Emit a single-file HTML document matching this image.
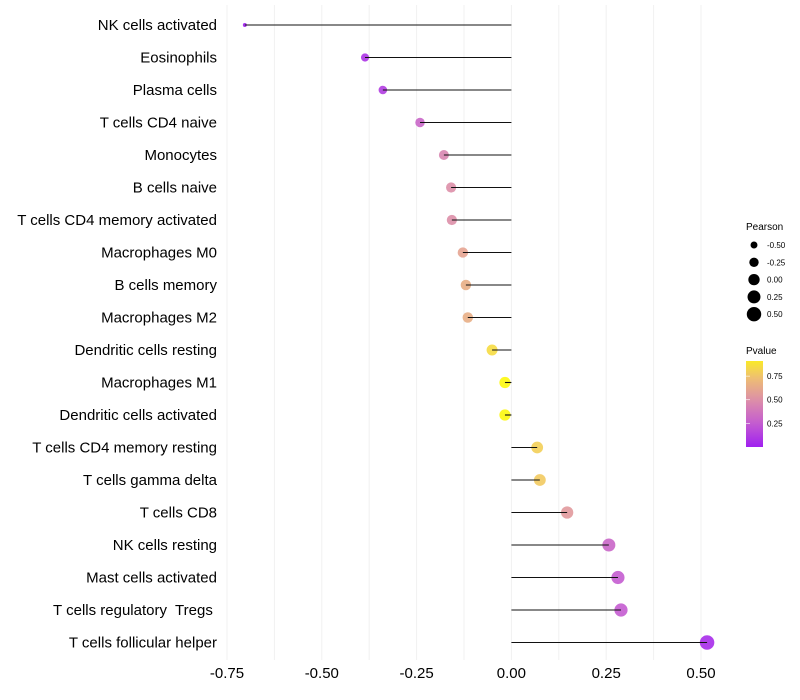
<!DOCTYPE html>
<html><head><meta charset="utf-8"><style>
body{margin:0;background:#fff}
svg{display:block;font-family:"Liberation Sans",sans-serif}
text{white-space:pre}
</style></head><body>
<svg id="chart" width="800" height="700">
<g id="grid"></g>
<g id="marks"></g>
<g id="ylabels"></g>
<g id="xlabels"></g>
<g id="legend"></g>
</svg>
<script>
const categories=["NK cells activated","Eosinophils","Plasma cells","T cells CD4 naive","Monocytes","B cells naive","T cells CD4 memory activated","Macrophages M0","B cells memory","Macrophages M2","Dendritic cells resting","Macrophages M1","Dendritic cells activated","T cells CD4 memory resting","T cells gamma delta","T cells CD8","NK cells resting","Mast cells activated","T cells regulatory  Tregs ","T cells follicular helper"];
const pearson=[-0.703,-0.386,-0.339,-0.241,-0.178,-0.159,-0.157,-0.128,-0.12,-0.115,-0.051,-0.017,-0.017,0.068,0.075,0.147,0.257,0.281,0.289,0.516];
const pvalue=[0.0,0.08,0.12,0.3,0.45,0.5,0.5,0.6,0.65,0.65,0.85,0.97,0.97,0.8,0.78,0.55,0.3,0.25,0.25,0.05];
const xTicks=[-0.75,-0.5,-0.25,0,0.25,0.5];
const xTickLabels=["-0.75","-0.50","-0.25","0.00","0.25","0.50"];
const sizeLegend=[-0.5,-0.25,0,0.25,0.5];
const sizeLegendLabels=["-0.50","-0.25","0.00","0.25","0.50"];
const pvTicks=[0.25,0.5,0.75];
const pvTickLabels=["0.25","0.50","0.75"];

const NS="http://www.w3.org/2000/svg";
const x=v=>511.4+v*379.2;
const y=i=>25+i*32.5;
const rad=v=>Math.sqrt(Math.max(2.5,32+40*v));
const stops=[[0,[160,32,240]],[0.25,[196,92,208]],[0.5,[221,143,168]],[0.75,[240,195,110]],[1,[255,255,0]]];
function col(p){for(let i=1;i<stops.length;i++){if(p<=stops[i][0]){const a=stops[i-1],b=stops[i],t=(p-a[0])/(b[0]-a[0]);return "rgb("+a[1].map((c,k)=>Math.round(c+(b[1][k]-c)*t)).join(",")+")";}}return "rgb(255,255,0)";}
function mk(tag,attrs,parent,text){const e=document.createElementNS(NS,tag);for(const k in attrs)e.setAttribute(k,attrs[k]);if(text!==undefined)e.textContent=text;document.getElementById(parent).appendChild(e);return e;}

for(let v=-0.75;v<=0.5001;v+=0.125){
 const g=mk("line",{x1:x(v),x2:x(v),y1:5,y2:660,stroke:"#f1f1f1","stroke-width":1},"grid");
 
 
}
xTicks.forEach((v,i)=>{
 const t=mk("text",{x:x(v),y:678,"text-anchor":"middle","font-size":15,fill:"#000"},"xlabels",xTickLabels[i]);
 
 
});
categories.forEach((c,i)=>{
 const t=mk("text",{x:217,y:y(i)+5,"text-anchor":"end","font-size":15,fill:"#000"},"ylabels",c);
 
 
 const p=mk("circle",{cx:x(pearson[i]),cy:y(i),r:rad(pearson[i]),fill:col(pvalue[i]),"fill-opacity":0.9},"marks");
 
 
 const l=mk("line",{x1:x(0),x2:x(pearson[i]),y1:y(i),y2:y(i),stroke:"#111","stroke-width":1.1},"marks");
 
 
});
let lt=mk("text",{x:746,y:230,"font-size":10},"legend","Pearson");


sizeLegend.forEach((v,i)=>{
 const yy=245+i*17.3;
 const c=mk("circle",{cx:754,cy:yy,r:rad(v),fill:"#000"},"legend");
 
 
 const tx=mk("text",{x:767,y:yy+3,"font-size":8},"legend",sizeLegendLabels[i]);
 
 
});
lt=mk("text",{x:746,y:354,"font-size":10},"legend","Pvalue");


const defs=document.createElementNS(NS,"defs");document.getElementById("chart").appendChild(defs);
const lg=document.createElementNS(NS,"linearGradient");lg.setAttribute("id","pg");lg.setAttribute("x1",0);lg.setAttribute("x2",0);lg.setAttribute("y1",1);lg.setAttribute("y2",0);
const pvTop=0.91;
for(let k=0;k<=10;k++){const s=document.createElementNS(NS,"stop");s.setAttribute("offset",k/10);s.setAttribute("stop-color",col(k/10*pvTop));lg.appendChild(s);}
defs.appendChild(lg);
const bar=mk("rect",{x:746,y:361,width:17,height:86,fill:"url(#pg)"},"legend");


const py=p=>447-p/pvTop*86;
pvTicks.forEach((p,i)=>{
 const tk=mk("line",{x1:746,x2:750,y1:py(p),y2:py(p),stroke:"#fff","stroke-width":0.6},"legend");
 
 
 const tx=mk("text",{x:767,y:py(p)+3,"font-size":8},"legend",pvTickLabels[i]);
 
 
});
</script>
</body></html>
